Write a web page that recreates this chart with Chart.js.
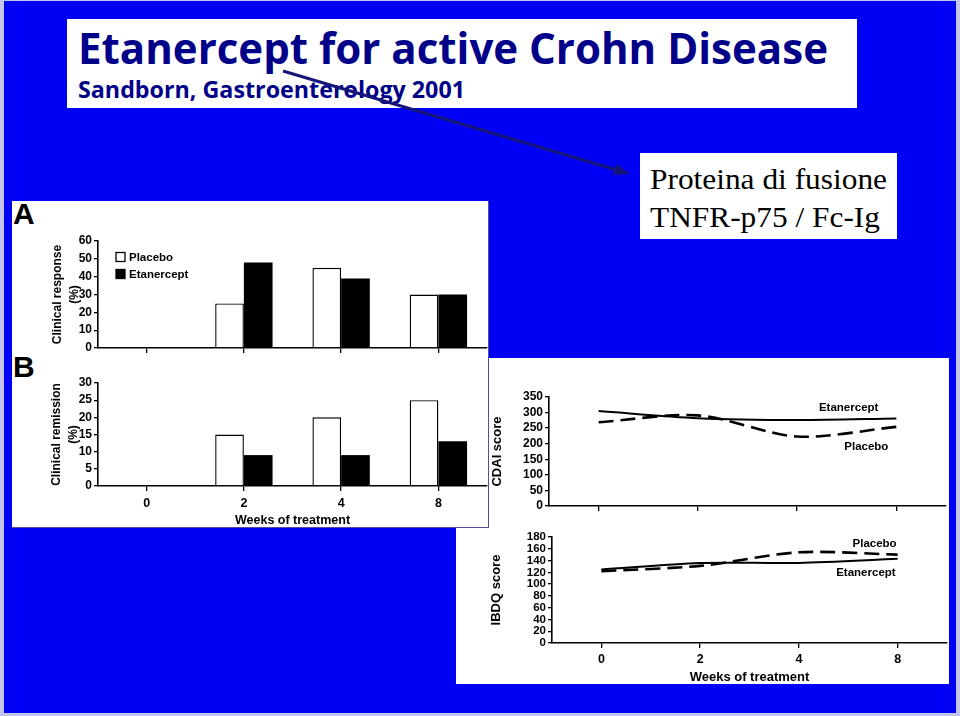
<!DOCTYPE html>
<html>
<head>
<meta charset="utf-8">
<title>Etanercept for active Crohn Disease</title>
<script src="https://cdn.jsdelivr.net/npm/chart.js@4.4.1/dist/chart.umd.min.js"></script>
<style>
html,body{margin:0;padding:0}
body{width:960px;height:716px;position:relative;overflow:hidden;background:#c4c4ee}
.abs{position:absolute}
.fit{white-space:nowrap;transform-origin:0 0}
canvas{position:absolute}
</style>
</head>
<body>
<div class="abs" style="left:4px;top:1px;width:952px;height:712px;background:#0000f5"></div>
<div class="abs" style="left:67px;top:19px;width:790px;height:89px;background:#fff"></div>
<div class="abs fit" data-w="750" style="left:78px;top:26px;font:bold 43px/1 'Open Sans',sans-serif;color:#000088">Etanercept for active Crohn Disease</div>
<div class="abs fit" data-w="387" style="left:78px;top:77px;font:bold 24px/1 'Open Sans',sans-serif;color:#000088">Sandborn, Gastroenterology 2001</div>
<div class="abs" style="left:640px;top:153px;width:257px;height:86px;background:#fff"></div>
<div class="abs fit" data-w="237" style="left:650px;top:165px;font:29px/1 'Liberation Serif','Times New Roman',serif;color:#000">Proteina di fusione</div>
<div class="abs fit" data-w="230" style="left:650px;top:203px;font:29px/1 'Liberation Serif','Times New Roman',serif;color:#000">TNFR-p75 / Fc-Ig</div>
<svg class="abs" style="left:0;top:0" width="960" height="716">
  <line x1="283" y1="71" x2="615" y2="169.5" stroke="#16167a" stroke-width="3"/>
  <polygon points="630,174 616.4,163.7 613,175.1" fill="#16167a"/>
</svg>

<div class="abs" style="left:489px;top:358px;width:460px;height:169px;background:#fff"></div>
<div class="abs" style="left:456px;top:527px;width:493px;height:157px;background:#fff"></div>
<div class="abs" style="left:12px;top:201px;width:476px;height:326px;background:#fff;border-right:1px solid #50509a;border-bottom:1px solid #50509a"></div>
<div class="abs" style="left:13px;top:199px;font:bold 30px/1 'Liberation Sans',Arial,sans-serif;color:#000">A</div>
<div class="abs" style="left:13px;top:352px;font:bold 30px/1 'Liberation Sans',Arial,sans-serif;color:#000">B</div>

<canvas id="cA" width="476" height="160" style="left:12px;top:201px"></canvas>
<canvas id="cB" width="476" height="175" style="left:12px;top:352px"></canvas>
<canvas id="cC" width="460" height="169" style="left:489px;top:358px"></canvas>
<canvas id="cD" width="493" height="157" style="left:456px;top:527px"></canvas>

<script>
// ---- data ----
const weeks = ['0', '2', '4', '8'];
const responsePlacebo = [0, 25, 45, 30];
const responseEtanercept = [0, 48, 39, 30];
const remissionPlacebo = [0, 15, 20, 25];
const remissionEtanercept = [0, 9, 9, 13];
const cdaiEtanercept = [305, 282, 276, 281];
const cdaiPlacebo = [269, 291, 223, 254];
const ibdqEtanercept = [125, 136, 136, 143];
const ibdqPlacebo = [122, 131, 154, 150];

// fit decorative slide texts to measured widths
document.querySelectorAll('[data-w]').forEach(el => {
  const w = el.getBoundingClientRect().width;
  el.style.transform = 'scaleX(' + (parseFloat(el.dataset.w) / w) + ')';
});

const FONT = '"Liberation Sans", Arial, Helvetica, sans-serif';
Chart.defaults.font.family = FONT;
Chart.defaults.font.weight = 'bold';
Chart.defaults.color = '#000';
Chart.defaults.animation = false;

const insideLegend = {
  id: 'insideLegend',
  afterDatasetsDraw(chart, args, o) {
    if (!o || !o.display) return;
    const ctx = chart.ctx, a = chart.chartArea;
    ctx.save();
    ctx.font = o.font;
    ctx.textBaseline = 'middle';
    chart.data.datasets.forEach((ds, i) => {
      const x = a.left + o.x, y = a.top + o.y + i * o.gap;
      ctx.fillStyle = ds.backgroundColor;
      ctx.fillRect(x, y - o.box / 2, o.box, o.box);
      ctx.strokeStyle = ds.borderColor;
      ctx.lineWidth = 1.3;
      ctx.strokeRect(x, y - o.box / 2, o.box, o.box);
      ctx.fillStyle = '#000';
      ctx.fillText(ds.label, x + o.box + o.space, y + 0.5);
    });
    ctx.restore();
  }
};

const endLabels = {
  id: 'endLabels',
  afterDatasetsDraw(chart, args, o) {
    if (!o || !o.offsets) return;
    const ctx = chart.ctx;
    ctx.save();
    ctx.font = o.font;
    ctx.fillStyle = '#000';
    ctx.textAlign = 'right';
    ctx.textBaseline = 'middle';
    chart.data.datasets.forEach((ds, i) => {
      const meta = chart.getDatasetMeta(i);
      const pt = meta.data[meta.data.length - 1];
      const off = o.offsets[i];
      ctx.fillText(ds.label, pt.x + off[0], pt.y + off[1]);
    });
    ctx.restore();
  }
};

function xScale(o) {
  return {
    offset: true,
    grid: { offset: false, drawOnChartArea: false, drawTicks: true, tickLength: 5, color: '#000', lineWidth: 1.3 },
    border: { display: true, color: '#000', width: 1.6 },
    ticks: { display: o.labels, font: { size: o.tickSize || 12.5, weight: 'bold' }, padding: o.tickPad || 5, maxRotation: 0, autoSkip: false },
    title: { display: o.labels, text: 'Weeks of treatment', font: { size: o.titleSize || 12.5, weight: 'bold', lineHeight: 1 }, padding: 0 },
    afterFit: s => { s.height = o.h; }
  };
}

function yScale(o) {
  return {
    min: 0, max: o.max,
    ticks: { stepSize: o.step, font: { size: o.tickSize || 12, weight: 'bold' }, padding: 2, autoSkip: false },
    grid: { drawOnChartArea: false, drawTicks: true, tickLength: 4, color: '#000', lineWidth: 1.3 },
    border: { display: true, color: '#000', width: 1.6 },
    title: { display: true, text: o.title, font: { size: o.titleSize || 12, weight: 'bold', lineHeight: o.lh || 1.4 }, padding: { top: o.tpad, bottom: 0 } },
    afterFit: s => { s.width = o.w; }
  };
}

function barChart(id, pl, et, o) {
  return new Chart(document.getElementById(id), {
    type: 'bar',
    data: {
      labels: weeks,
      datasets: [
        { label: 'Placebo', data: pl, backgroundColor: '#ffffff', borderColor: '#000000', borderWidth: 1.4, categoryPercentage: 0.59, barPercentage: 1 },
        { label: 'Etanercept', data: et, backgroundColor: '#000000', borderColor: '#000000', borderWidth: 0, categoryPercentage: 0.59, barPercentage: 1 }
      ]
    },
    options: {
      responsive: false, animation: false, devicePixelRatio: 1,
      layout: { padding: o.padding },
      plugins: { legend: { display: false }, tooltip: { enabled: false }, insideLegend: o.legend || { display: false } },
      scales: { x: xScale(o.x), y: yScale(o.y) }
    },
    plugins: [insideLegend]
  });
}

function lineChart(id, et, pl, o) {
  return new Chart(document.getElementById(id), {
    type: 'line',
    data: {
      labels: weeks,
      datasets: [
        { label: 'Etanercept', data: et, borderColor: '#000', borderWidth: 2, pointRadius: 0, tension: 0.3, fill: false },
        { label: 'Placebo', data: pl, borderColor: '#000', borderWidth: 2.6, borderDash: [15, 7], pointRadius: 0, tension: 0.3, fill: false }
      ]
    },
    options: {
      responsive: false, animation: false, devicePixelRatio: 1,
      layout: { padding: o.padding },
      plugins: { legend: { display: false }, tooltip: { enabled: false },
        endLabels: { font: 'bold 11.5px ' + FONT, offsets: o.offsets } },
      scales: { x: xScale(o.x), y: yScale(o.y) }
    },
    plugins: [endLabels]
  });
}

barChart('cA', responsePlacebo, responseEtanercept, {
  padding: { left: 0, top: 40, right: 1, bottom: 0 },
  legend: { display: true, x: 18, y: 16, gap: 17, box: 9, space: 4, font: 'bold 11.5px ' + FONT },
  x: { labels: false, h: 13 },
  y: { max: 60, step: 10, title: ['Clinical response', '(%)'], tpad: 37.5, w: 86 }
});

barChart('cB', remissionPlacebo, remissionEtanercept, {
  padding: { left: 0, top: 31, right: 1, bottom: 0 },
  x: { labels: true, h: 41, tickPad: 5 },
  y: { max: 30, step: 5, title: ['Clinical remission', '(%)'], tpad: 36.5, w: 86 }
});

lineChart('cC', cdaiEtanercept, cdaiPlacebo, {
  padding: { left: 0, top: 39, right: 3, bottom: 0 },
  offsets: [[-18, -11], [-8, 20]],
  x: { labels: false, h: 21 },
  y: { max: 350, step: 50, title: 'CDAI score', titleSize: 13, lh: 1.2, tpad: 1, w: 60 }
});

lineChart('cD', ibdqEtanercept, ibdqPlacebo, {
  padding: { left: 0, top: 10, right: 2, bottom: 0 },
  offsets: [[-2, 14], [-1, -11]],
  x: { labels: true, h: 41, tickPad: 4, titleSize: 13 },
  y: { max: 180, step: 20, tickSize: 11.5, title: 'IBDQ score', titleSize: 13, lh: 1.2, tpad: 33, w: 96 }
});
</script>
</body>
</html>
